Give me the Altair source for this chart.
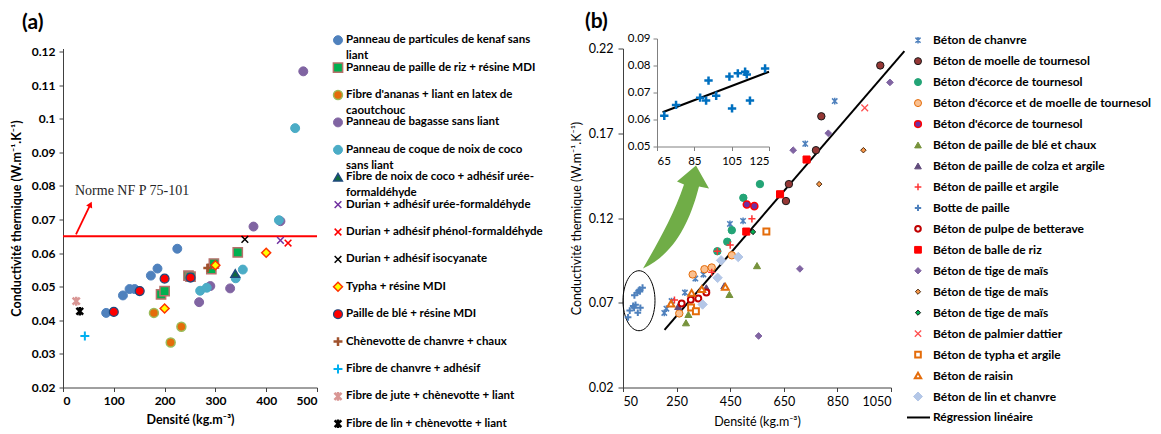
import altair as alt
import pandas as pd

FONT = "Lato"
panel_labels = ["(a)", "(b)"]
x_title = "Densité (kg.m⁻³)"
y_title = "Conductivité thermique (W.m⁻¹.K⁻¹)"
norm_label = "Norme NF P 75-101"

# ---------------- Panel (a) ----------------
a_legend_lines = [
    ["Panneau de particules de kenaf sans", "liant"],
    ["Panneau de paille de riz + résine MDI"],
    ["Fibre d'ananas + liant en latex de", "caoutchouc"],
    ["Panneau de bagasse sans liant"],
    ["Panneau de coque de noix de coco", "sans liant"],
    ["Fibre de noix de coco + adhésif urée-", "formaldéhyde"],
    ["Durian + adhésif urée-formaldéhyde"],
    ["Durian + adhésif phénol-formaldéhyde"],
    ["Durian + adhésif isocyanate"],
    ["Typha + résine MDI"],
    ["Paille de blé + résine MDI"],
    ["Chènevotte de chanvre + chaux"],
    ["Fibre de chanvre + adhésif"],
    ["Fibre de jute + chènevotte + liant"],
    ["Fibre de lin + chènevotte + liant"],
]
a_density = [
    [85, 118, 131, 141, 173, 186, 225],
    [193, 200, 247, 251, 292, 297, 344],
    [179, 212, 233],
    [268, 290, 329, 375, 428, 473],
    [270, 283, 340, 354, 425, 457],
    [339],
    [428],
    [443],
    [358],
    [200, 300, 400],
    [100, 151, 200, 251],
    [285],
    [43],
    [26],
    [33],
]
a_conductivity = [
    [0.0422, 0.0474, 0.0493, 0.0493, 0.0533, 0.0554, 0.0613],
    [0.0477, 0.0487, 0.0533, 0.0530, 0.0552, 0.0569, 0.0602],
    [0.0422, 0.0334, 0.0381],
    [0.0454, 0.0502, 0.0495, 0.0679, 0.0695, 0.1141],
    [0.0488, 0.0497, 0.0525, 0.0551, 0.0698, 0.0972],
    [0.0539],
    [0.0638],
    [0.0630],
    [0.0641],
    [0.0435, 0.0564, 0.0601],
    [0.0425, 0.0487, 0.0524, 0.0527],
    [0.0556],
    [0.0353],
    [0.0457],
    [0.0427],
]
a_norm_value = [0.065]
a_norm_extent = [0, 500]
a_arrow_density = [25.6, 54]
a_arrow_k = [0.0656, 0.0745]
a_norm_text_pos = [23.6, 0.0786]
a_ticks_x = [0, 100, 200, 300, 400, 500]
a_ticks_y = [0.02, 0.03, 0.04, 0.05, 0.06, 0.07, 0.08, 0.09, 0.10, 0.11, 0.12]

# ---------------- Panel (b) ----------------
b_legend = [
    "Béton de chanvre",
    "Béton de moelle de tournesol",
    "Béton d'écorce de tournesol",
    "Béton d'écorce et de moelle de tournesol",
    "Béton d'écorce de tournesol",
    "Béton de paille de blé et chaux",
    "Béton de paille de colza et argile",
    "Béton de paille et argile",
    "Botte de paille",
    "Béton de pulpe de betterave",
    "Béton de balle de riz",
    "Béton de tige de maïs",
    "Béton de tige de maïs",
    "Béton de tige de maïs",
    "\u00a0Béton de palmier dattier",
    "Béton de typha et argile",
    "Béton de raisin",
    "Béton de lin et chanvre",
]
fit_label = "Régression linéaire"
straw_bale_density = [68.9, 75.2, 88.1, 91.3, 92.6, 96.7, 103.8, 105.2, 108.3, 112.2, 113.1, 114.8, 122.9]
straw_bale_k = [0.0614, 0.0654, 0.0681, 0.0670, 0.0744, 0.0688, 0.0759, 0.0641, 0.0771, 0.0777, 0.0767, 0.0670, 0.0789]
b_density = [
    [204, 212, 231, 281, 320, 350, 449, 498, 730, 840],
    [658, 669, 770, 790, 1010],
    [402, 439, 456, 499, 561],
    [260, 310, 354, 381, 456],
    [512, 540],
    [285, 294, 447, 550],
    [256, 361, 428],
    [242, 381, 402, 450, 531],
    straw_bale_density,
    [269, 303, 331, 361],
    [510, 636, 735],
    [556, 685, 710, 816, 1046],
    [782, 947],
    [535],
    [952],
    [304, 322, 585],
    [229, 306, 344, 432],
    [347, 403, 416, 480],
]
b_conductivity = [
    [0.064, 0.0665, 0.071, 0.076, 0.0843, 0.0867, 0.1165, 0.1183, 0.1638, 0.189],
    [0.130, 0.140, 0.160, 0.180, 0.210],
    [0.1004, 0.106, 0.1128, 0.1319, 0.140],
    [0.0637, 0.0867, 0.0898, 0.0908, 0.098],
    [0.128, 0.127],
    [0.0582, 0.0631, 0.0749, 0.0919],
    [0.0678, 0.0788, 0.080],
    [0.0716, 0.088, 0.1004, 0.104, 0.1195],
    straw_bale_k,
    [0.0696, 0.0718, 0.0725, 0.076],
    [0.112, 0.134, 0.1545],
    [0.0504, 0.160, 0.090, 0.170, 0.200],
    [0.140, 0.160],
    [0.1118],
    [0.185],
    [0.0672, 0.065, 0.112],
    [0.0695, 0.0758, 0.078, 0.0794],
    [0.069, 0.0847, 0.095, 0.097],
]
b_fit_density = [205, 1100]
b_fit_k = [0.054, 0.2185]
b_ellipse_pos = [109.7, 0.0712]
b_green_arrow_pos = [251.5, 0.1203]
b_ticks_x = [50, 250, 450, 650, 850, 1050]
b_ticks_y = [0.02, 0.07, 0.12, 0.17, 0.22]
inset_ticks_x = [65, 85, 105, 125]
inset_ticks_y = [0.05, 0.06, 0.07, 0.08, 0.09]
inset_fit_extent = [68, 125]

# ---------------- styles ----------------
PLUS = "M -1 0 L 1 0 M 0 -1 L 0 1"
XMARK = "M -0.8 -0.8 L 0.8 0.8 M -0.8 0.8 L 0.8 -0.8"
STAR = "M -0.8 -0.8 L 0.8 0.8 M -0.8 0.8 L 0.8 -0.8 M 0 -1 L 0 1"
ELLIPSE = "M -16 0 A 16 30 0 1 0 16 0 A 16 30 0 1 0 -16 0 Z"
GREEN_ARROW = "M 19 -52 L 32 -29 L 22 -31 C 14 0 0 35 -34 51 C -22 30 -4 0 7 -33 L 0 -36 Z"
T = "transparent"


def st(shape, fill, stroke, size, sw=1.0):
    return dict(shape=shape, fill=fill, stroke=stroke, size=size, sw=sw)


a_styles = [
    st("circle", "#4F81BD", "#4F81BD", 80),
    st("square", "#00B050", "#B7706B", 85, 1.5),
    st("circle", "#E46C0A", "#9BBB59", 80, 1.5),
    st("circle", "#8064A2", "#8064A2", 80),
    st("circle", "#4BACC6", "#4BACC6", 80),
    st("triangle-up", "#0E6B3C", "#1F497D", 75, 1.5),
    st(XMARK, T, "#7030A0", 70, 1.5),
    st(XMARK, T, "#FF0000", 70, 1.5),
    st(XMARK, T, "#000000", 70, 1.5),
    st("diamond", "#FFFF00", "#FF3300", 80, 1.5),
    st("circle", "#FF0000", "#1F497D", 80, 1.2),
    st(PLUS, T, "#A0522D", 80, 2.5),
    st(PLUS, T, "#00B0F0", 80, 2),
    st(STAR, T, "#D99694", 80, 2.5),
    st(STAR, T, "#000000", 70, 2.5),
]
b_styles = [
    st(STAR, T, "#4F81BD", 45, 1.5),
    st("circle", "#953735", "#1A1A1A", 55, 1),
    st("circle", "#23A476", "#23A476", 55, 1),
    st("circle", "#FAC090", "#E46C0A", 55, 1),
    st("circle", "#7030A0", "#FF0000", 50, 1.5),
    st("triangle-up", "#77933C", "#77933C", 50, 1),
    st("triangle-up", "#604A7B", "#604A7B", 50, 1),
    st(PLUS, T, "#FF3333", 50, 1.5),
    st(PLUS, T, "#4F81BD", 45, 2),
    st("circle", "white", "#C00000", 35, 2),
    st("square", "#FF0000", "#FF0000", 50, 1),
    st("diamond", "#8064A2", "#8064A2", 45, 1),
    st("diamond", "#F79646", "#4A2A10", 30, 1),
    st("diamond", "#00B050", "#1A1A1A", 30, 1),
    st(XMARK, T, "#FF5050", 70, 1.3),
    st("square", "white", "#E46C0A", 35, 2),
    st("triangle-up", "white", "#E46C0A", 45, 2),
    st("diamond", "#B4C7E7", "#B4C7E7", 90, 1),
]
inset_style = st(PLUS, T, "#0070C0", 70, 2.5)


def table(xs, ys, styles):
    rows = []
    for i, (xv, yv) in enumerate(zip(xs, ys)):
        for x, y in zip(xv, yv):
            rows.append(dict(series=i, density=x, k=y, **styles[i]))
    return pd.DataFrame(rows)


def style_enc():
    return dict(
        shape=alt.Shape("shape:N", scale=None),
        fill=alt.Fill("fill:N", scale=None),
        stroke=alt.Stroke("stroke:N", scale=None),
        size=alt.Size("size:Q", scale=None),
        strokeWidth=alt.StrokeWidth("sw:Q", scale=None),
    )


H = 339
AXC = "#404040"

# ---------------- panel (a) chart ----------------
axis_ax = alt.Axis(values=a_ticks_x, title=x_title, grid=False, tickSize=4, labelPadding=4,
                   labelFontWeight="bold", titleFontWeight="bold", labelFontSize=12, titleFontSize=12.5,
                   domainColor=AXC, tickColor=AXC, labelColor="black", titleColor="black", titlePadding=7)
axis_ay = alt.Axis(values=a_ticks_y, format=".2~f", title=y_title, grid=False, tickSize=4, labelPadding=4,
                   labelFontWeight="bold", titleFontWeight="bold", labelFontSize=12, titleFontSize=12.5,
                   domainColor=AXC, tickColor=AXC, labelColor="black", titleColor="black", titlePadding=8)
XA = alt.X("density:Q", scale=alt.Scale(domain=[0, 500], nice=False, zero=False), axis=axis_ax)
YA = alt.Y("k:Q", scale=alt.Scale(domain=[0.02, 0.1209], nice=False, zero=False), axis=axis_ay)

a_df = table(a_density, a_conductivity, a_styles)
a_pts = alt.Chart(a_df).mark_point(filled=True, opacity=1).encode(x=XA, y=YA, **style_enc())
a_rule = alt.Chart(pd.DataFrame({"density": [a_norm_extent[0]], "density2": [a_norm_extent[1]],
                                 "k": a_norm_value})).mark_rule(color="#FF0000", strokeWidth=2).encode(
    x=XA, x2="density2:Q", y=YA)
a_arrow = alt.Chart(pd.DataFrame({"density": a_arrow_density, "k": a_arrow_k})).mark_line(
    color="#FF0000", strokeWidth=1.8).encode(x=XA, y=YA)
a_head = alt.Chart(pd.DataFrame({"density": a_arrow_density[1:], "k": a_arrow_k[1:]})).mark_point(
    shape="triangle-up", filled=True, color="#FF0000", size=45, angle=26, opacity=1).encode(x=XA, y=YA)
a_text = alt.Chart(pd.DataFrame({"density": [a_norm_text_pos[0]], "k": [a_norm_text_pos[1]],
                                 "t": [norm_label]})).mark_text(
    align="left", baseline="middle", font="Liberation Serif", fontSize=14, color="#262626").encode(
    x=XA, y=YA, text="t:N")
a_lab = alt.Chart(pd.DataFrame({"t": [panel_labels[0]]})).mark_text(
    align="left", baseline="middle", fontSize=21, fontWeight="bold", color="black").encode(
    x=alt.value(-41), y=alt.value(-26), text="t:N")
panel_a = alt.layer(a_rule, a_arrow, a_head, a_pts, a_text, a_lab).properties(width=254, height=H)


# ---------------- legends ----------------
def legend_view(styles, lines, first_px, step, sym_x, text_x, fsize, weight, extra_rows=0,
                sub_step=0.573):
    n = len(styles) + extra_rows
    yscale = alt.Scale(domain=[0, n - 1], range=[first_px - 50, first_px - 50 + step * (n - 1)],
                       nice=False, zero=False)
    sym_rows = [dict(row=i, **s) for i, s in enumerate(styles)]
    txt_rows = []
    for i, ls in enumerate(lines):
        for j, line in enumerate(ls):
            txt_rows.append(dict(row=i + j * sub_step, t=line))
    sym = alt.Chart(pd.DataFrame(sym_rows)).mark_point(filled=True, opacity=1).encode(
        x=alt.value(sym_x), y=alt.Y("row:Q", scale=yscale, axis=None), **style_enc())
    txt = alt.Chart(pd.DataFrame(txt_rows)).mark_text(
        align="left", baseline="middle", fontSize=fsize, fontWeight=weight, color="black").encode(
        x=alt.value(text_x), y=alt.Y("row:Q", scale=yscale, axis=None), text="t:N")
    return yscale, [sym, txt]


_, la_layers = legend_view(a_styles, a_legend_lines, 41.7, 27.4, 12, 20, 11.5, "bold")
legend_a = alt.layer(*la_layers).properties(width=288, height=H)

b_lines = [[s] for s in b_legend] + [[fit_label]]
b_sym_styles = [dict(s, size=s["size"] * 0.9) for s in b_styles]
yscale_b, lb_layers = legend_view(b_sym_styles, b_lines, 41.7, 20.96, 18, 33, 12, "bold",
                                  extra_rows=1)
lb_rule = alt.Chart(pd.DataFrame({"row": [len(b_legend)]})).mark_rule(color="black", strokeWidth=2).encode(
    x=alt.value(7), x2=alt.value(30), y=alt.Y("row:Q", scale=yscale_b, axis=None))
legend_b = alt.layer(*lb_layers, lb_rule).properties(width=200, height=H)

# ---------------- panel (b) chart ----------------
axis_bx = alt.Axis(values=b_ticks_x, format="d", title=x_title, grid=False, tickSize=4, labelPadding=4,
                   labelFontSize=12.5, titleFontSize=12.5, titleFontWeight="normal",
                   domainColor=AXC, tickColor=AXC, labelColor="black", titleColor="black", titlePadding=7)
axis_by = alt.Axis(values=b_ticks_y, format=".2f", title=y_title, grid=False, tickSize=5, labelPadding=5,
                   labelFontSize=12.5, titleFontSize=12.5, titleFontWeight="normal",
                   domainColor=AXC, tickColor=AXC, labelColor="black", titleColor="black", titlePadding=5)
XB = alt.X("density:Q", scale=alt.Scale(domain=[50, 1050], nice=False, zero=False), axis=axis_bx)
YB = alt.Y("k:Q", scale=alt.Scale(domain=[0.02, 0.22], nice=False, zero=False), axis=axis_by)

b_df = table(b_density, b_conductivity, b_styles)
b_pts = alt.Chart(b_df).mark_point(filled=True, opacity=1).encode(x=XB, y=YB, **style_enc())
b_fit = alt.Chart(pd.DataFrame({"density": b_fit_density, "k": b_fit_k})).mark_line(
    color="black", strokeWidth=2).encode(x=XB, y=YB)
b_ell = alt.Chart(pd.DataFrame({"density": [b_ellipse_pos[0]], "k": [b_ellipse_pos[1]]})).mark_point(
    shape=ELLIPSE, size=4, filled=False, stroke="black", strokeWidth=1, opacity=1).encode(x=XB, y=YB)
b_garrow = alt.Chart(pd.DataFrame({"density": [b_green_arrow_pos[0]], "k": [b_green_arrow_pos[1]]})).mark_point(
    shape=GREEN_ARROW, size=4, filled=True, fill="#70AD47", strokeWidth=0, opacity=1).encode(x=XB, y=YB)
b_lab = alt.Chart(pd.DataFrame({"t": [panel_labels[1]]})).mark_text(
    align="left", baseline="middle", fontSize=21, fontWeight="bold", color="black").encode(
    x=alt.value(-38), y=alt.value(-27), text="t:N")
main_b = alt.layer(b_garrow, b_ell, b_fit, b_pts, b_lab)

axis_ix = alt.Axis(values=inset_ticks_x, title=None, grid=False, orient="bottom", offset=-(H - 98),
                   tickSize=4, labelPadding=5, labelFontSize=11.5, domainColor="#808080", tickColor="#808080",
                   labelColor="black")
axis_iy = alt.Axis(values=inset_ticks_y, format=".2f", title=None, grid=False, orient="left", offset=-34,
                   tickSize=4, labelPadding=3, labelFontSize=11.5, domainColor="#808080", tickColor="#808080",
                   labelColor="black")
XI = alt.X("density:Q", scale=alt.Scale(domain=[65, 125], range=[34, 146], nice=False, zero=False), axis=axis_ix)
YI = alt.Y("k:Q", scale=alt.Scale(domain=[0.05, 0.09], range=[98, -10], nice=False, zero=False), axis=axis_iy)
inset_df = pd.DataFrame({"density": straw_bale_density, "k": straw_bale_k})
for kk, vv in inset_style.items():
    inset_df[kk] = vv
inset_pts = alt.Chart(inset_df).mark_point(filled=True, opacity=1).encode(x=XI, y=YI, **style_enc())
inset_fit = alt.Chart(inset_df).transform_regression("density", "k", extent=inset_fit_extent).mark_line(
    color="black", strokeWidth=2).encode(x=XI, y=YI)
inset = alt.layer(inset_fit, inset_pts)

panel_b = alt.layer(main_b, inset).resolve_scale(x="independent", y="independent").properties(
    width=268, height=H)

chart = alt.hconcat(panel_a, legend_a, panel_b, legend_b, spacing=9, bounds="flush").properties(
    padding={"left": 2, "top": 2.5, "right": 0, "bottom": 0}
).configure(font=FONT).configure_view(strokeWidth=0)

chart.save("out.html", embed_options={"renderer": "svg", "actions": False})
